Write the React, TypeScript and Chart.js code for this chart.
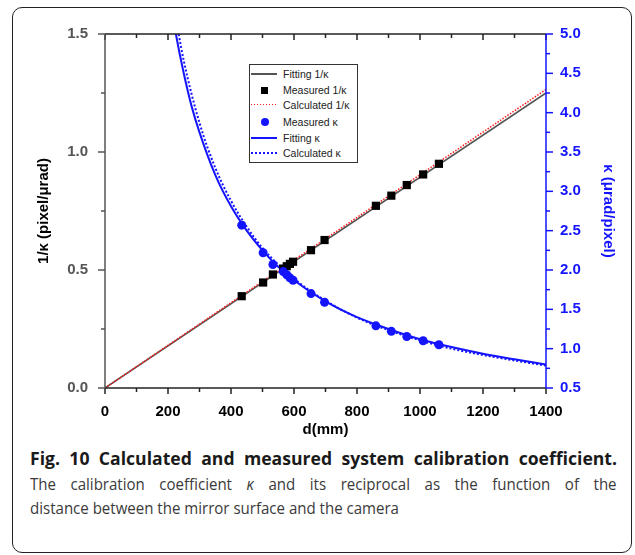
import React, { useEffect, useRef } from "react";
import { Chart, registerables } from "chart.js";
Chart.register(...registerables);

// Measured data (d in mm)
const distances = [434, 502, 533, 566, 577, 587, 597, 654, 697, 860, 909, 958, 1010, 1060];
const measuredInvKappa = [0.389, 0.447, 0.481, 0.506, 0.516, 0.526, 0.535, 0.584, 0.627, 0.772, 0.815, 0.86, 0.905, 0.95];
const measuredKappa = [2.57, 2.22, 2.07, 1.98, 1.94, 1.9, 1.87, 1.7, 1.59, 1.29, 1.22, 1.155, 1.1, 1.05];

// Straight lines for 1/kappa
const lineD = [0, 1400];
const fitInvKappa = [0, 1.25];
const calcInvKappa = [0, 1.265];

// Curves for kappa
const fitKappaD = [210, 225, 250, 275, 300, 350, 400, 450, 500, 550, 600, 700, 800, 900, 1000, 1100, 1200, 1300, 1400];
const fitKappa = [5.36, 5.0, 4.5, 4.08, 3.75, 3.21, 2.81, 2.5, 2.25, 2.04, 1.87, 1.6, 1.4, 1.25, 1.12, 1.02, 0.935, 0.865, 0.8];
const calcKappaD = [215, 234, 250, 300, 350, 400, 450, 500, 600, 700, 800, 900, 1000, 1100, 1200, 1300, 1400];
const calcKappa = [5.45, 5.0, 4.66, 3.87, 3.3, 2.88, 2.55, 2.28, 1.89, 1.61, 1.395, 1.235, 1.105, 1.0, 0.92, 0.85, 0.785];

const xTickLabels = ["0", "200", "400", "600", "800", "1000", "1200", "1400"];

const FONT = '"Liberation Sans", Arial, sans-serif';
const BLUE = "#1414ff";

const zip = (xs: number[], ys: number[]) => xs.map((x, i) => ({ x, y: ys[i] }));

const framePlugin = {
  id: "frame",
  afterDraw(chart: any) {
    const { ctx, chartArea } = chart;
    const { left, right, top, bottom } = chartArea;
    const xs = chart.scales.x;
    const yl = chart.scales.y;
    const yr = chart.scales.y2;
    ctx.save();
    ctx.lineWidth = 1.5;
    const seg = (x1: number, y1: number, x2: number, y2: number, c: string) => {
      ctx.strokeStyle = c;
      ctx.beginPath();
      ctx.moveTo(x1, y1);
      ctx.lineTo(x2, y2);
      ctx.stroke();
    };
    for (let v = 0; v <= 1400; v += 100) {
      const px = xs.getPixelForValue(v);
      const len = v % 200 === 0 ? 6 : 4;
      seg(px, bottom, px, bottom + len, "#222");
      seg(px, top, px, top + len, "#222");
    }
    for (let v = 0; v <= 1.5 + 1e-9; v += 0.25) {
      const py = yl.getPixelForValue(v);
      const len = Math.abs(v / 0.5 - Math.round(v / 0.5)) < 1e-6 ? 7 : 4;
      seg(left - len, py, left, py, "#555");
    }
    for (let v = 0.5; v <= 5.0 + 1e-9; v += 0.25) {
      const py = yr.getPixelForValue(v);
      const len = Math.abs(v / 0.5 - Math.round(v / 0.5)) < 1e-6 ? 7 : 4;
      seg(right, py, right + len, py, BLUE);
    }
    seg(left, top, right, top, "#222");
    seg(left, bottom, right, bottom, "#222");
    seg(left, top, left, bottom, "#555");
    seg(right, top, right, bottom, BLUE);
    ctx.restore();
  },
};

function ChartCanvas() {
  const ref = useRef<HTMLCanvasElement | null>(null);
  useEffect(() => {
    if (!ref.current) return;
    const chart = new Chart(ref.current, {
      type: "line",
      data: {
        datasets: [
          {
            label: "Measured κ",
            data: zip(distances, measuredKappa),
            yAxisID: "y2",
            showLine: false,
            pointStyle: "circle",
            pointRadius: 4.5,
            backgroundColor: BLUE,
            borderColor: BLUE,
            borderWidth: 0,
            order: 0,
          },
          {
            label: "Measured 1/κ",
            data: zip(distances, measuredInvKappa),
            yAxisID: "y",
            showLine: false,
            pointStyle: "rect",
            pointRadius: 5.8,
            backgroundColor: "#000",
            borderColor: "#000",
            borderWidth: 0,
            order: 1,
          },
          {
            label: "Calculated 1/κ",
            data: zip(lineD, calcInvKappa),
            yAxisID: "y",
            borderColor: "#ff1a1a",
            borderWidth: 1.5,
            borderDash: [1.5, 1.5],
            pointRadius: 0,
            order: 2,
          },
          {
            label: "Fitting 1/κ",
            data: zip(lineD, fitInvKappa),
            yAxisID: "y",
            borderColor: "#555",
            borderWidth: 1.6,
            pointRadius: 0,
            order: 3,
          },
          {
            label: "Calculated κ",
            data: zip(calcKappaD, calcKappa),
            yAxisID: "y2",
            borderColor: BLUE,
            borderWidth: 2,
            borderDash: [2, 2],
            pointRadius: 0,
            cubicInterpolationMode: "monotone",
            order: 4,
          },
          {
            label: "Fitting κ",
            data: zip(fitKappaD, fitKappa),
            yAxisID: "y2",
            borderColor: BLUE,
            borderWidth: 2,
            pointRadius: 0,
            cubicInterpolationMode: "monotone",
            order: 5,
          },
        ],
      },
      options: {
        animation: false,
        responsive: false,
        maintainAspectRatio: false,
        layout: { padding: { top: 0, left: 0, right: 0, bottom: 0 } },
        plugins: { legend: { display: false }, tooltip: { enabled: false } },
        scales: {
          x: {
            type: "linear",
            min: 0,
            max: 1400,
            afterFit: (s: any) => {
              s.height = 52;
            },
            afterBuildTicks: (s: any) => {
              s.ticks = xTickLabels.map((t) => ({ value: Number(t) }));
            },
            ticks: {
              autoSkip: false,
              maxRotation: 0,
              padding: 7,
              color: "#000",
              font: { family: FONT, size: 15, weight: "bold" },
              callback: (v: any) => String(v),
            },
            grid: { display: true, drawOnChartArea: false, drawTicks: true, tickLength: 8, color: "rgba(0,0,0,0)" },
            border: { display: false },
            title: {
              display: true,
              text: "d(mm)",
              color: "#000",
              font: { family: FONT, size: 15, weight: "bold" },
              padding: { top: 0, bottom: 1 },
            },
          },
          y: {
            type: "linear",
            position: "left",
            min: 0,
            max: 1.5,
            afterFit: (s: any) => {
              s.width = 85;
            },
            ticks: {
              stepSize: 0.5,
              padding: 9,
              color: "#555",
              font: { family: FONT, size: 15, weight: "bold" },
              callback: (v: any) => Number(v).toFixed(1),
            },
            grid: { display: true, drawOnChartArea: false, drawTicks: true, tickLength: 8, color: "rgba(0,0,0,0)" },
            border: { display: false },
            title: {
              display: true,
              text: "1/κ (pixel/μrad)",
              color: "#000",
              font: { family: FONT, size: 15, weight: "bold" },
              padding: { top: 15, bottom: 0 },
            },
          },
          y2: {
            type: "linear",
            position: "right",
            min: 0.5,
            max: 5.0,
            afterFit: (s: any) => {
              s.width = 74;
            },
            ticks: {
              stepSize: 0.5,
              padding: 6,
              color: BLUE,
              font: { family: FONT, size: 15, weight: "bold" },
              callback: (v: any) => Number(v).toFixed(1),
            },
            grid: { display: true, drawOnChartArea: false, drawTicks: true, tickLength: 8, color: "rgba(0,0,0,0)" },
            border: { display: false },
            title: {
              display: true,
              text: "κ (μrad/pixel)",
              color: BLUE,
              font: { family: FONT, size: 15, weight: "bold" },
              padding: { top: 3, bottom: 0 },
            },
          },
        },
      },
      plugins: [framePlugin],
    } as any);
    return () => chart.destroy();
  }, []);
  return (
    <canvas
      ref={ref}
      width={600}
      height={424}
      style={{ position: "absolute", left: 20, top: 16, width: 600, height: 424 }}
    />
  );
}

const legendRows: { label: string; kind: string }[] = [
  { label: "Fitting 1/κ", kind: "greyLine" },
  { label: "Measured 1/κ", kind: "square" },
  { label: "Calculated 1/κ", kind: "redDot" },
  { label: "Measured κ", kind: "circle" },
  { label: "Fitting κ", kind: "blueLine" },
  { label: "Calculated κ", kind: "blueDot" },
];
const legendRowCenters = [10, 26, 40.5, 57.5, 73.5, 88.5];

function Symbol({ kind }: { kind: string }) {
  const base: React.CSSProperties = { position: "absolute", left: 1, width: 26 };
  if (kind === "greyLine") return <div style={{ ...base, top: -1, height: 2, background: "#555" }} />;
  if (kind === "blueLine") return <div style={{ ...base, top: -1, height: 2, background: BLUE }} />;
  if (kind === "redDot")
    return (
      <div
        style={{
          ...base,
          top: -1,
          height: 1.5,
          background: "repeating-linear-gradient(90deg, #ff1a1a 0 1.5px, transparent 1.5px 3px)",
        }}
      />
    );
  if (kind === "blueDot")
    return (
      <div
        style={{
          ...base,
          top: -1,
          height: 2,
          background: `repeating-linear-gradient(90deg, ${BLUE} 0 2px, transparent 2px 4px)`,
        }}
      />
    );
  if (kind === "square")
    return <div style={{ position: "absolute", left: 11, top: -3.5, width: 7, height: 7, background: "#000" }} />;
  return (
    <div style={{ position: "absolute", left: 10.5, top: -4, width: 8, height: 8, borderRadius: 4, background: BLUE }} />
  );
}

function Legend() {
  return (
    <div
      style={{
        position: "absolute",
        left: 249,
        top: 64,
        width: 107,
        height: 97,
        border: "1px solid #333",
        background: "#fff",
        fontFamily: FONT,
        fontSize: 10.5,
        color: "#222",
      }}
    >
      {legendRows.map((r, i) => (
        <div key={r.label} style={{ position: "absolute", left: 0, top: legendRowCenters[i] - 1, width: 107, height: 0 }}>
          <Symbol kind={r.kind} />
          <div style={{ position: "absolute", left: 33, top: -7, lineHeight: "14px", whiteSpace: "nowrap" }}>{r.label}</div>
        </div>
      ))}
    </div>
  );
}

const bodyLine: React.CSSProperties = {
  fontSize: 16,
  lineHeight: "24px",
  whiteSpace: "nowrap",
  transform: "scaleX(0.94)",
  transformOrigin: "0 0",
};

export default function App() {
  return (
    <div style={{ position: "absolute", left: 0, top: 0, width: 635, height: 555, background: "#fff", overflow: "hidden" }}>
      <div
        style={{
          position: "absolute",
          left: 12,
          top: 7,
          width: 620,
          height: 546,
          boxSizing: "border-box",
          border: "1.5px solid #222",
          borderRadius: 10,
        }}
      />
      <ChartCanvas />
      <Legend />
      <div
        style={{
          position: "absolute",
          left: 30,
          top: 445,
          width: 587,
          fontFamily: '"Open Sans", "Noto Sans", sans-serif',
          color: "#3a3a3a",
        }}
      >
        <div
          style={{
            fontWeight: 700,
            fontSize: 17.6,
            lineHeight: "27px",
            color: "#1a1a1a",
            whiteSpace: "nowrap",
            textAlign: "justify",
            textAlignLast: "justify",
          }}
        >
          Fig. 10 Calculated and measured system calibration coefficient.
        </div>
        <div style={{ ...bodyLine, width: 624, textAlign: "justify", textAlignLast: "justify" }}>
          The calibration coefficient <i>κ</i> and its reciprocal as the function of the
        </div>
        <div style={bodyLine}>distance between the mirror surface and the camera</div>
      </div>
    </div>
  );
}
